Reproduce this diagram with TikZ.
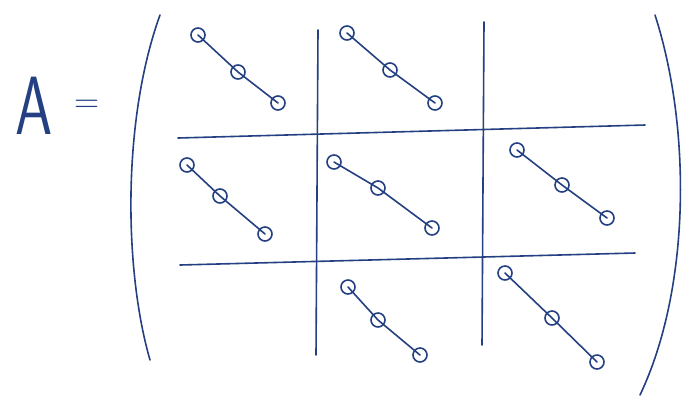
\documentclass[tikz,border=0pt]{standalone}
\usepackage{tikz}

\definecolor{ink}{RGB}{36,64,130}

\begin{document}
\begin{tikzpicture}[x=0.75pt, y=-0.75pt, pen/.style={ink, line width=1.2pt, line cap=round},
	ring/.style={circle, draw=ink, line width=1.2pt, minimum size=10.5pt, inner sep=0pt}]
	\useasboundingbox (0,0) rectangle (691,405);
	\fill[white] (0,0) rectangle (691,405);
	\node[ink, font=\fontsize{62}{62}\sffamily, anchor=base, xscale=0.72] (lhs) at (34,134) {A};
	\node[ink, font=\fontsize{26}{26}\selectfont] (eq) at (87,106) {=};
	% brackets
	\draw[pen] (160,15) .. controls (122,120) and (124,270) .. (150,360);
	\draw[pen] (655,15) .. controls (692,130) and (690,290) .. (640,395);
	% block grid
	\draw[pen] (318,30) -- (316,355);
	\draw[pen] (484,22) -- (482,345);
	\draw[pen] (178,138) -- (645,125);
	\draw[pen] (180,265) -- (635,253);
	% diagonal blocks
	\foreach \n/\sx/\sy/\mx/\my/\ex/\ey in {b11/198/35/238/72/278/103, b12/347/33/390/70/435/103,
		b21/187/165/220/196/265/234, b22/334/162/378/188/432/228, b23/517/150/562/185/607/218,
		b32/348/287/378/320/420/355, b33/505/273/552/318/597/362} {
		\node[ring] (\n s) at (\sx,\sy) {};
		\node[ring] (\n m) at (\mx,\my) {};
		\node[ring] (\n e) at (\ex,\ey) {};
		\draw[pen] (\n s.center) -- (\n m.center) -- (\n e.center);
	}
\end{tikzpicture}
\end{document}
